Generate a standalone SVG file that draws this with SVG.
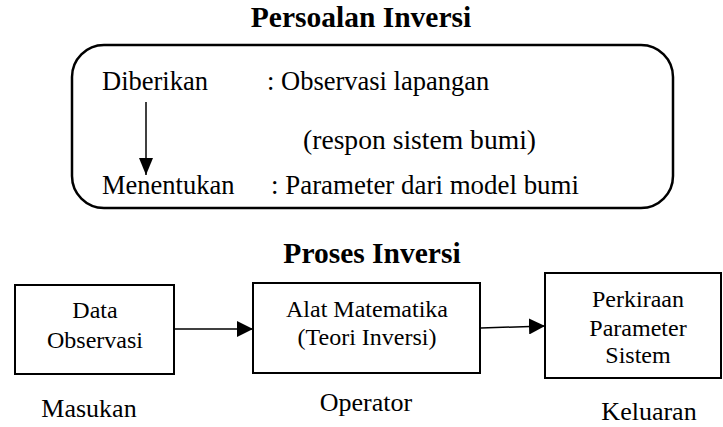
<svg xmlns="http://www.w3.org/2000/svg" width="723" height="427" viewBox="0 0 723 427">
<defs>
<style>
text{font-family:"Liberation Serif","Times New Roman",serif;fill:#000}
.title{font-weight:bold;font-size:29.5px;text-anchor:middle}
.body{font-size:26.5px}
.lbl{font-size:24px;text-anchor:middle}
.cap{font-size:26px;text-anchor:middle}
.box{fill:#fff;stroke:#000;stroke-width:2}
.conn{stroke:#000;stroke-width:1.5;fill:none}
</style>
<marker id="ah" markerWidth="16" markerHeight="16" viewBox="0 0 16 16" refX="16" refY="8" orient="auto" markerUnits="userSpaceOnUse">
<path d="M0,0 L16,8 L0,16 Z" fill="#000"/>
</marker>
<marker id="ah2" markerWidth="17" markerHeight="14" viewBox="0 0 17 14" refX="17" refY="7" orient="auto" markerUnits="userSpaceOnUse">
<path d="M0,0 L17,7 L0,14 Z" fill="#000"/>
</marker>
</defs>
<rect width="723" height="427" fill="#fff"/>
<text class="title" x="361" y="27">Persoalan Inversi</text>
<g id="problem">
<rect x="72" y="45" width="601" height="163" rx="32" ry="32" fill="#fff" stroke="#000" stroke-width="2.5"/>
<text class="body" x="102" y="90">Diberikan</text>
<text class="body" x="267" y="90">: Observasi lapangan</text>
<text class="body" x="303" y="149" textLength="233" lengthAdjust="spacingAndGlyphs">(respon sistem bumi)</text>
<text class="body" x="271" y="194" textLength="308" lengthAdjust="spacingAndGlyphs">: Parameter dari model bumi</text>
<text class="body" x="102" y="194">Menentukan</text>
</g>
<text class="title" x="372" y="263">Proses Inversi</text>
<g id="input">
<rect class="box" x="15" y="285" width="159" height="89"/>
<text class="lbl" x="95" y="318">Data</text>
<text class="lbl" x="95" y="348">Observasi</text>
</g>
<g id="operator">
<rect class="box" x="253" y="283" width="227" height="90"/>
<text class="lbl" x="367" y="317">Alat Matematika</text>
<text class="lbl" x="367" y="345">(Teori Inversi)</text>
</g>
<g id="output">
<rect class="box" x="545" y="273" width="176" height="105"/>
<text class="lbl" x="638" y="307">Perkiraan</text>
<text class="lbl" x="638" y="336">Parameter</text>
<text class="lbl" x="638" y="363">Sistem</text>
</g>
<text class="cap" x="89" y="417">Masukan</text>
<text class="cap" x="366" y="411">Operator</text>
<text class="cap" x="649" y="420">Keluaran</text>
<g id="connectors">
<line class="conn" x1="146" y1="102" x2="146" y2="175" marker-end="url(#ah2)"/>
<line class="conn" x1="174" y1="329" x2="253" y2="329" marker-end="url(#ah)"/>
<line class="conn" x1="481" y1="328" x2="545" y2="326" marker-end="url(#ah)"/>
</g>
</svg>
